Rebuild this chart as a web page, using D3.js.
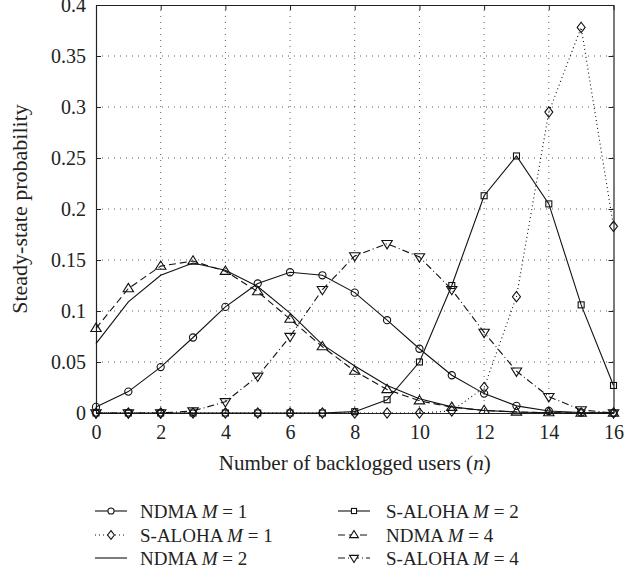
<!DOCTYPE html>
<html lang="en">
<head>
<meta charset="UTF-8">
<title>Steady-state probability</title>
<script src="https://d3js.org/d3.v7.min.js"></script>
<style>
  body { margin: 0; background: #fff; }
  svg text { font-family: "Liberation Serif", "Times New Roman", serif; fill: #222; }
</style>
</head>
<body>
<div id="chart"></div>
<script>
// backlog sizes n = 0..16
const nValues = d3.range(0, 17);

const ndmaM1   = [0.006, 0.021, 0.045, 0.074, 0.104, 0.127, 0.138, 0.135, 0.118, 0.091, 0.063, 0.037, 0.019, 0.007, 0.002, 0.0005, 0];
const alohaM1  = [0, 0, 0, 0, 0, 0, 0, 0, 0, 0, 0, 0.002, 0.025, 0.114, 0.295, 0.378, 0.183];
const ndmaM2   = [0.068, 0.109, 0.135, 0.147, 0.140, 0.124, 0.098, 0.067, 0.046, 0.027, 0.014, 0.006, 0.0025, 0.001, 0.0003, 0, 0];
const alohaM2  = [0, 0, 0, 0, 0, 0, 0, 0, 0.0013, 0.013, 0.050, 0.125, 0.213, 0.252, 0.205, 0.106, 0.027];
const ndmaM4   = [0.083, 0.122, 0.144, 0.149, 0.139, 0.119, 0.092, 0.065, 0.041, 0.023, 0.012, 0.0056, 0.0025, 0.001, 0.0003, 0, 0];
const alohaM4  = [0, 0, 0, 0.002, 0.011, 0.036, 0.075, 0.121, 0.154, 0.166, 0.153, 0.121, 0.079, 0.041, 0.016, 0.003, 0];

const xTicks = [0, 2, 4, 6, 8, 10, 12, 14, 16];
const yTicks = [0, 0.05, 0.1, 0.15, 0.2, 0.25, 0.3, 0.35, 0.4];

const series = [
  { name: "NDMA", m: 1, values: ndmaM1,  marker: "circle",  dash: null },
  { name: "S-ALOHA", m: 1, values: alohaM1, marker: "diamond", dash: "1,3" },
  { name: "NDMA", m: 2, values: ndmaM2,  marker: null,      dash: null },
  { name: "S-ALOHA", m: 2, values: alohaM2, marker: "square",  dash: null },
  { name: "NDMA", m: 4, values: ndmaM4,  marker: "triUp",   dash: "7,4" },
  { name: "S-ALOHA", m: 4, values: alohaM4, marker: "triDown", dash: "7,3,1,3" }
];

const width = 644, height = 582;
const font = "'Liberation Serif', 'Times New Roman', serif";
const svg = d3.select("#chart").append("svg")
  .attr("width", width).attr("height", height);
svg.append("rect").attr("width", width).attr("height", height).attr("fill", "#fff");

const x = d3.scaleLinear().domain([0, 16]).range([96, 613.5]);
const y = d3.scaleLinear().domain([0, 0.4]).range([413, 5]);

// grid
const grid = svg.append("g").attr("stroke", "#333").attr("stroke-width", 0.8)
  .attr("stroke-dasharray", "1,5");
xTicks.slice(1, -1).forEach(t => {
  grid.append("line").attr("x1", x(t)).attr("x2", x(t)).attr("y1", y(0)).attr("y2", y(0.4));
});
yTicks.slice(1, -1).forEach(t => {
  grid.append("line").attr("x1", x(0)).attr("x2", x(16)).attr("y1", y(t)).attr("y2", y(t));
});

// axes with inward ticks
const xAxis = svg.append("g").attr("transform", `translate(0,${y(0)})`)
  .call(d3.axisBottom(x).tickValues(xTicks).tickSizeInner(-5).tickSizeOuter(0).tickPadding(12));
const xTop = svg.append("g").attr("transform", `translate(0,${y(0.4)})`)
  .call(d3.axisTop(x).tickValues(xTicks).tickSizeInner(-5).tickSizeOuter(0).tickFormat(""));
const yAxis = svg.append("g").attr("transform", `translate(${x(0)},0)`)
  .call(d3.axisLeft(y).tickValues(yTicks).tickSizeInner(-5).tickSizeOuter(0).tickPadding(10)
    .tickFormat(d => String(+d.toFixed(2))));
const yRight = svg.append("g").attr("transform", `translate(${x(16)},0)`)
  .call(d3.axisRight(y).tickValues(yTicks).tickSizeInner(-5).tickSizeOuter(0).tickFormat(""));

[xAxis, xTop, yAxis, yRight].forEach(g => {
  g.attr("font-family", font);
  g.select(".domain").attr("stroke", "#222").attr("stroke-width", 1.2);
  g.selectAll(".tick line").attr("stroke", "#222");
  g.selectAll("text").attr("font-size", 20).attr("fill", "#222");
});

// markers
function drawMarker(g, type, cx, cy, s) {
  s = s || 1;
  if (type === "circle") {
    g.append("circle").attr("cx", cx).attr("cy", cy).attr("r", 3.6 * s);
  } else if (type === "diamond") {
    const w = 4 * s, h = 5.2 * s;
    g.append("path").attr("d", `M${cx},${cy - h}L${cx + w},${cy}L${cx},${cy + h}L${cx - w},${cy}Z`);
  } else if (type === "square") {
    const a = 3 * s;
    g.append("rect").attr("x", cx - a).attr("y", cy - a).attr("width", 2 * a).attr("height", 2 * a);
  } else if (type === "triUp") {
    const a = 5.2 * s;
    g.append("path").attr("d", `M${cx},${cy - a}L${cx + a},${cy + a * 0.6}L${cx - a},${cy + a * 0.6}Z`);
  } else if (type === "triDown") {
    const a = 5.2 * s;
    g.append("path").attr("d", `M${cx},${cy + a}L${cx + a},${cy - a * 0.6}L${cx - a},${cy - a * 0.6}Z`);
  }
}

const line = d3.line().x((d, i) => x(nValues[i])).y(d => y(d));

series.forEach(s => {
  svg.append("path").datum(s.values)
    .attr("d", line)
    .attr("fill", "none").attr("stroke", "#111").attr("stroke-width", 1.1)
    .attr("stroke-dasharray", s.dash);
  if (s.marker) {
    const mg = svg.append("g").attr("fill", "none").attr("stroke", "#111").attr("stroke-width", 1.1);
    s.values.forEach((v, i) => drawMarker(mg, s.marker, x(nValues[i]), y(v)));
  }
});

// axis titles
svg.append("text")
  .attr("x", x(8)).attr("y", 470)
  .attr("text-anchor", "middle").attr("font-size", 21).attr("font-family", font)
  .html('Number of backlogged users (<tspan font-style="italic">n</tspan>)');

svg.append("text")
  .attr("transform", `translate(27,${y(0.2)}) rotate(-90)`)
  .attr("text-anchor", "middle").attr("font-size", 22).attr("font-family", font)
  .text("Steady-state probability");

// legend
const legendRows = [511, 535, 558];
const legendLineX = [95, 338];
const legendTextX = [140, 386];
series.forEach((s, i) => {
  const col = Math.floor(i / 3), row = i % 3;
  const lx = legendLineX[col];
  const ly = legendRows[row];
  const g = svg.append("g");
  g.append("line").attr("x1", lx).attr("x2", lx + 32).attr("y1", ly).attr("y2", ly)
    .attr("stroke", "#111").attr("stroke-width", 1.1).attr("stroke-dasharray", s.dash);
  if (s.marker) {
    const mg = g.append("g").attr("fill", "#fff").attr("stroke", "#111").attr("stroke-width", 1.1);
    drawMarker(mg, s.marker, lx + 16, ly, 0.85);
  }
  g.append("text").attr("x", legendTextX[col]).attr("y", ly + 6.5).attr("font-size", 19).attr("font-family", font)
    .html(`${s.name} <tspan font-style="italic">M</tspan> = ${s.m}`);
});
</script>
</body>
</html>
